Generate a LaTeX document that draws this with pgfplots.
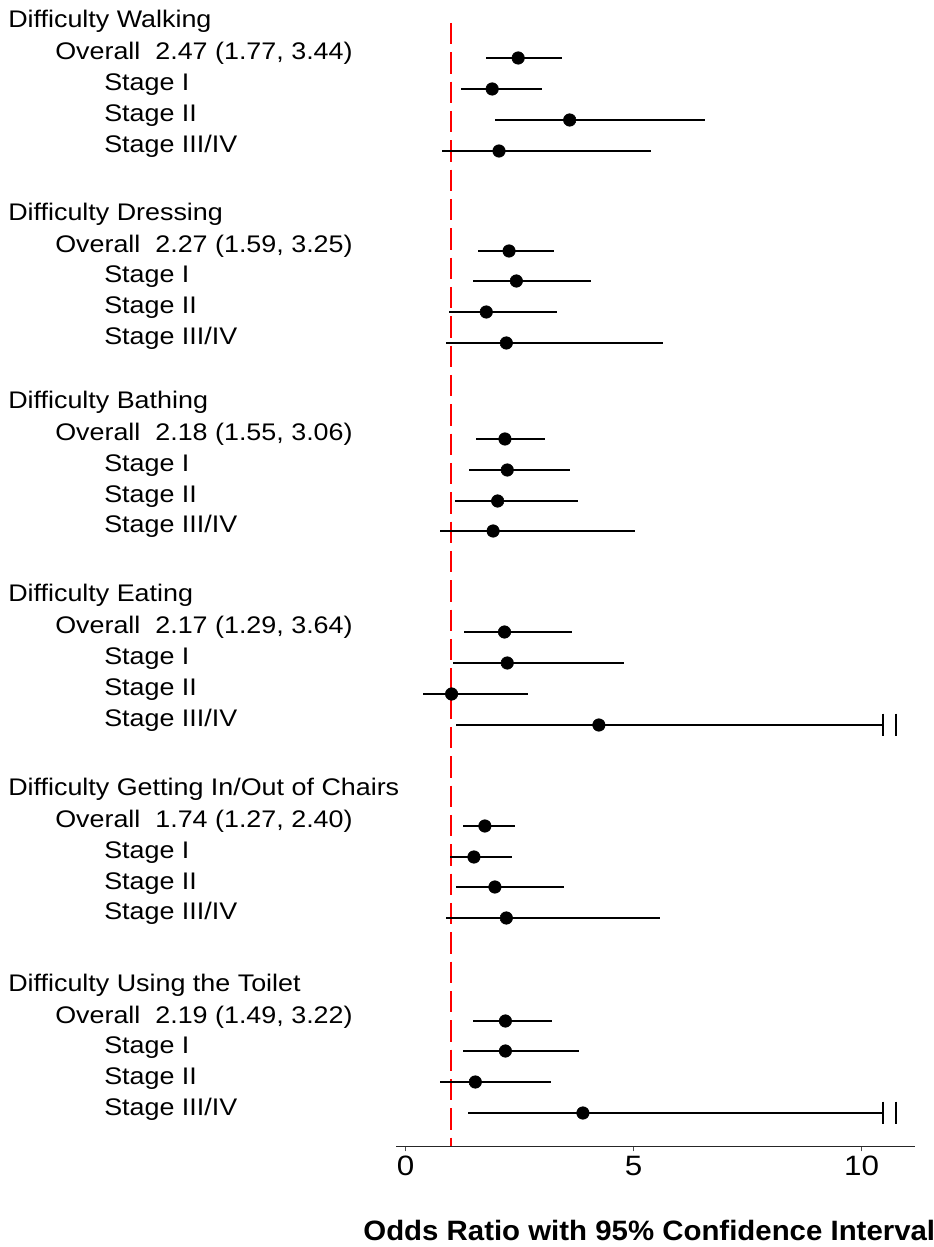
\documentclass[border=0pt]{standalone}
\usepackage{fontspec}
\setmainfont{Liberation Sans}
\newfontfamily\labfam[FakeStretch=1.12]{Liberation Sans}
\newfontfamily\xlabfam[FakeStretch=1.05]{Liberation Sans}
\newcommand\lab{\labfam\fontsize{18}{21}\selectfont}
\newcommand\tickf{\labfam\fontsize{21}{25}\selectfont}
\newcommand\xlab{\xlabfam\bfseries\fontsize{21}{25}\selectfont}
\usepackage{pgfplots}
\usepackage{pgfplotstable}
\pgfplotsset{compat=1.18}

% y = minus the pixel row of each estimate
\pgfplotstableread{
y x lo hi
-58 2.47 1.77 3.44
-89 1.90 1.21 3.00
-120 3.60 1.97 6.56
-151 2.05 0.79 5.38
-251 2.27 1.59 3.25
-281 2.43 1.47 4.06
-312 1.77 0.95 3.33
-343 2.21 0.88 5.65
-439 2.18 1.55 3.06
-470 2.23 1.40 3.61
-501 2.02 1.09 3.79
-531 1.92 0.75 5.03
-632 2.17 1.29 3.64
-663 2.23 1.05 4.80
-694 1.01 0.39 2.69
-725 4.24 1.11 10.47
-826 1.74 1.27 2.40
-857 1.50 0.97 2.34
-887 1.96 1.11 3.47
-918 2.21 0.88 5.58
-1021 2.19 1.49 3.22
-1051 2.19 1.26 3.81
-1082 1.53 0.75 3.19
-1113 3.89 1.37 10.47
}\ordata

\begin{document}
\begin{tikzpicture}
\begin{axis}[
  scale only axis,
  width=389.25pt, height=859.5pt,
  xmin=-0.208, xmax=11.173,
  ymin=-1146, ymax=0,
  axis x line*=bottom,
  axis y line=none,
  axis line style={black!85, line width=0.75pt, -},
  xtick={0,5,10},
  ytick=\empty,
  tick align=outside,
  major tick length=4pt,
  xtick style={black!70, line width=0.75pt},
  xticklabel style={font=\tickf},
  /pgf/number format/assume math mode=true,
  clip=false,
]
% reference line at OR = 1
\addplot[red, line width=1.6pt, dash pattern=on 16pt off 6pt] coordinates {(1,-23) (1,-1146)};
% confidence intervals
\addplot[mark=none, draw=none,
  error bars/.cd, x dir=both, x explicit, error mark=none,
  error bar style={draw=black, line width=1pt}]
  table[x=x, y=y, x error minus expr=\thisrow{x}-\thisrow{lo}, x error plus expr=\thisrow{hi}-\thisrow{x}] {\ordata};
% point estimates
\addplot[only marks, mark=*, mark size=4.7pt, black] table[x=x, y=y] {\ordata};
% truncation marks
\addplot[only marks, mark=|, mark size=8.6pt, black, mark options={line width=1.2pt}]
  coordinates {(10.47,-725) (10.76,-725) (10.47,-1113) (10.76,-1113)};

% row labels
\begin{scope}[every node/.style={anchor=base west, inner sep=0pt, font=\lab}]
\node at (axis cs:-8.717,-28) {Difficulty Walking};
\node at (axis cs:-7.686,-60) {Overall\ \ 2.47 (1.77, 3.44)};
\node at (axis cs:-6.612,-91) {Stage I};
\node at (axis cs:-6.612,-122) {Stage II};
\node at (axis cs:-6.612,-153) {Stage III/IV};

\node at (axis cs:-8.717,-221) {Difficulty Dressing};
\node at (axis cs:-7.686,-253) {Overall\ \ 2.27 (1.59, 3.25)};
\node at (axis cs:-6.612,-283) {Stage I};
\node at (axis cs:-6.612,-314) {Stage II};
\node at (axis cs:-6.612,-345) {Stage III/IV};

\node at (axis cs:-8.717,-409) {Difficulty Bathing};
\node at (axis cs:-7.686,-441) {Overall\ \ 2.18 (1.55, 3.06)};
\node at (axis cs:-6.612,-472) {Stage I};
\node at (axis cs:-6.612,-503) {Stage II};
\node at (axis cs:-6.612,-533) {Stage III/IV};

\node at (axis cs:-8.717,-602) {Difficulty Eating};
\node at (axis cs:-7.686,-634) {Overall\ \ 2.17 (1.29, 3.64)};
\node at (axis cs:-6.612,-665) {Stage I};
\node at (axis cs:-6.612,-696) {Stage II};
\node at (axis cs:-6.612,-727) {Stage III/IV};

\node at (axis cs:-8.717,-796) {Difficulty Getting In/Out of Chairs};
\node at (axis cs:-7.686,-828) {Overall\ \ 1.74 (1.27, 2.40)};
\node at (axis cs:-6.612,-859) {Stage I};
\node at (axis cs:-6.612,-889) {Stage II};
\node at (axis cs:-6.612,-920) {Stage III/IV};

\node at (axis cs:-8.717,-991) {Difficulty Using the Toilet};
\node at (axis cs:-7.686,-1023) {Overall\ \ 2.19 (1.49, 3.22)};
\node at (axis cs:-6.612,-1053) {Stage I};
\node at (axis cs:-6.612,-1084) {Stage II};
\node at (axis cs:-6.612,-1115) {Stage III/IV};
\end{scope}

\node[anchor=base west, inner sep=0pt, font=\xlab] at (axis cs:-0.93,-1240) {Odds Ratio with 95\% Confidence Interval};

\coordinate (bbl) at (axis cs:-8.893,-1247);
\coordinate (bbr) at (axis cs:11.568,0);
\end{axis}
\pgfresetboundingbox
\useasboundingbox (bbl) rectangle (bbr);
\end{tikzpicture}
\end{document}
